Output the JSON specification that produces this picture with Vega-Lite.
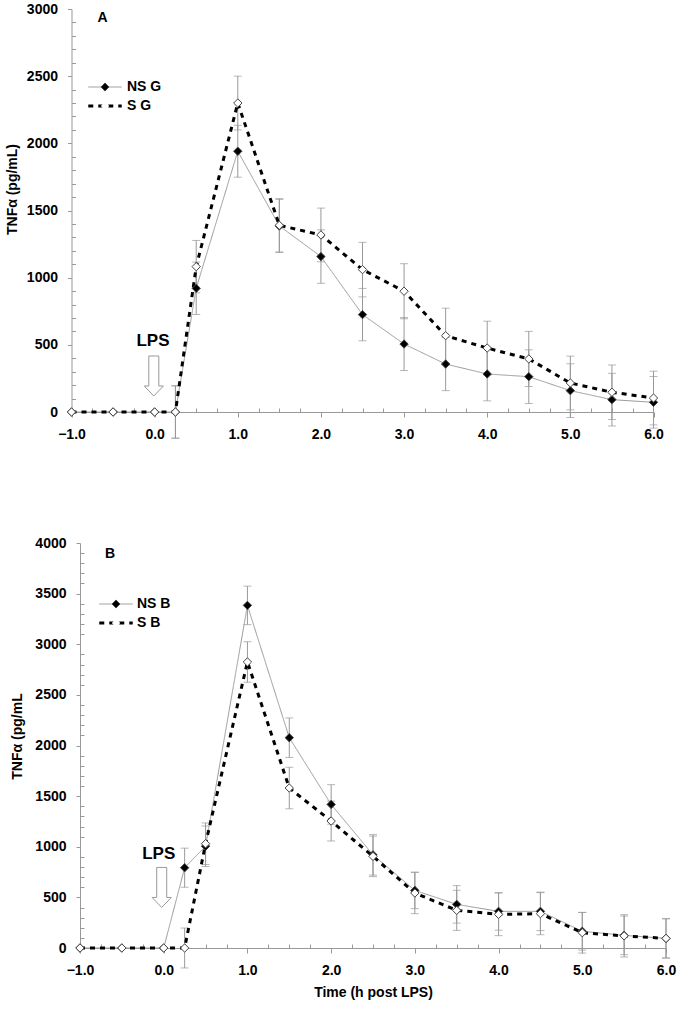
{
  "$schema": "https://vega.github.io/schema/vega-lite/v6.json",
  "padding": {"left": 5, "top": 2, "right": 5, "bottom": 5},
  "concat": [
    {
      "width": 582,
      "height": 403,
      "data": {"name": "A"},
      "encoding": {
        "x": {"field": "time", "type": "quantitative", "scale": {"domain": [-1, 6], "nice": false, "zero": false, "range": [-8.5, 573.5]},
          "axis": {"title": null, "values": [-1,-0.75,-0.5,-0.25,0,0.25,0.5,0.75,1,1.25,1.5,1.75,2,2.25,2.5,2.75,3,3.25,3.5,3.75,4,4.25,4.5,4.75,5,5.25,5.5,5.75,6],
            "format": ".1f", "labelExpr": "datum.value % 1 === 0 ? datum.label : ''",
            "tickSize": {"condition": {"test": "datum.value % 1 !== 0", "value": -4}, "value": 5},
            "labelPadding": 10, "labelOverlap": false, "labelFlush": false}},
        "y": {"field": "value", "type": "quantitative", "title": "TNFα (pg/mL)", "scale": {"domain": [0, 3000], "nice": false},
          "axis": {"values": [0,100,200,300,400,500,600,700,800,900,1000,1100,1200,1300,1400,1500,1600,1700,1800,1900,2000,2100,2200,2300,2400,2500,2600,2700,2800,2900,3000],
            "format": "d", "labelExpr": "datum.value % 500 === 0 ? datum.label : ''",
            "tickSize": {"condition": {"test": "datum.value % 500 !== 0", "value": -4}, "value": 4},
            "labelPadding": 10, "labelOverlap": false, "labelFlush": false, "offset": 8.5, "titleX": -52.5, "titleY": 180}}
      },
      "layer": [
        {"mark": {"type": "errorbar", "ticks": {"size": 8, "color": "#999", "strokeWidth": 1}, "rule": {"color": "#999", "strokeWidth": 1}},
         "encoding": {"yError": {"field": "se"}}},
        {"mark": {"type": "line"},
         "encoding": {
           "stroke": {"field": "series", "type": "nominal", "scale": {"range": ["#999999", "black"]},
             "legend": {"orient": "none", "legendX": 18, "legendY": 71, "title": null, "symbolType": "M-4,0L4,0", "symbolSize": 70, "labelOffset": 15, "padding": 0, "rowPadding": 5, "labelFontSize": 14, "labelFontWeight": "bold"}},
           "strokeDash": {"field": "series", "type": "nominal", "scale": {"range": [[1, 0], [5, 5]]},
             "legend": {"orient": "none", "legendX": 18, "legendY": 71, "title": null, "symbolType": "M-4,0L4,0", "symbolSize": 70, "labelOffset": 15, "padding": 0, "rowPadding": 5, "labelFontSize": 14, "labelFontWeight": "bold"}},
           "strokeWidth": {"field": "series", "type": "nominal", "scale": {"range": [1, 3]},
             "legend": {"orient": "none", "legendX": 18, "legendY": 71, "title": null, "symbolType": "M-4,0L4,0", "symbolSize": 70, "labelOffset": 15, "padding": 0, "rowPadding": 5, "labelFontSize": 14, "labelFontWeight": "bold"}}
         }},
        {"mark": {"type": "point", "filled": true, "size": 70, "opacity": 1, "stroke": "#444", "strokeWidth": 1},
         "encoding": {
           "shape": {"field": "series", "type": "nominal", "scale": {"domain": ["NS G", "S G"], "range": ["diamond", "diamond"]},
             "legend": {"orient": "none", "legendX": 18, "legendY": 71, "title": null, "symbolSize": 70, "labelOffset": 15, "padding": 0, "rowPadding": 5, "labelFontSize": 14, "labelFontWeight": "bold", "labelOpacity": 0, "symbolStrokeColor": "#444", "symbolStrokeWidth": 1}},
           "fill": {"field": "series", "type": "nominal", "scale": {"domain": ["NS G", "S G"], "range": ["black", "white"]},
             "legend": {"orient": "none", "legendX": 18, "legendY": 71, "title": null, "symbolSize": 70, "labelOffset": 15, "padding": 0, "rowPadding": 5, "labelFontSize": 14, "labelFontWeight": "bold", "labelOpacity": 0, "symbolStrokeColor": "#444", "symbolStrokeWidth": 1}}
         }},
        {"data": {"values": [{"label": "A", "time": -0.627, "value": 2934}]},
         "mark": {"type": "text", "fontSize": 14, "fontWeight": "bold", "align": "center", "baseline": "middle"},
         "encoding": {"text": {"field": "label"}}},
        {"data": {"values": [{"label": "LPS", "time": -0.02, "value": 525}]},
         "mark": {"type": "text", "fontSize": 17, "fontWeight": "bold", "align": "center", "baseline": "middle"},
         "encoding": {"text": {"field": "label"}}},
        {"data": {"values": [{"label": "arrow", "time": -0.01, "value": 268}]},
         "mark": {"type": "point", "shape": "M-0.25,-1L0.25,-1L0.25,0.5L0.48,0.5L0,1L-0.48,0.5L-0.25,0.5Z", "size": 1600, "filled": false, "stroke": "#999", "strokeWidth": 1, "opacity": 1}}
      ]
    },
    {
      "width": 586,
      "height": 405,
      "data": {"name": "B"},
      "encoding": {
        "x": {"field": "time", "type": "quantitative", "title": "Time (h post LPS)", "scale": {"domain": [-1, 6], "nice": false, "zero": false},
          "axis": {"values": [-1,-0.75,-0.5,-0.25,0,0.25,0.5,0.75,1,1.25,1.5,1.75,2,2.25,2.5,2.75,3,3.25,3.5,3.75,4,4.25,4.5,4.75,5,5.25,5.5,5.75,6],
            "format": ".1f", "labelExpr": "datum.value % 1 === 0 ? datum.label : ''",
            "tickSize": {"condition": {"test": "datum.value % 1 !== 0", "value": -4}, "value": 5},
            "labelPadding": 10, "labelOverlap": false, "labelFlush": false, "titlePadding": 8}},
        "y": {"field": "value", "type": "quantitative", "title": "TNFα (pg/mL", "scale": {"domain": [0, 4000], "nice": false},
          "axis": {"values": [0,100,200,300,400,500,600,700,800,900,1000,1100,1200,1300,1400,1500,1600,1700,1800,1900,2000,2100,2200,2300,2400,2500,2600,2700,2800,2900,3000,3100,3200,3300,3400,3500,3600,3700,3800,3900,4000],
            "format": "d", "labelExpr": "datum.value % 500 === 0 ? datum.label : ''",
            "tickSize": {"condition": {"test": "datum.value % 500 !== 0", "value": -4}, "value": 4},
            "labelPadding": 10, "labelOverlap": false, "labelFlush": false, "titleX": -56, "titleY": 193}}
      },
      "layer": [
        {"mark": {"type": "errorbar", "ticks": {"size": 8, "color": "#999", "strokeWidth": 1}, "rule": {"color": "#999", "strokeWidth": 1}},
         "encoding": {"yError": {"field": "se"}}},
        {"mark": {"type": "line"},
         "encoding": {
           "stroke": {"field": "series", "type": "nominal", "scale": {"range": ["#999999", "black"]},
             "legend": {"orient": "none", "legendX": 29, "legendY": 54, "title": null, "symbolType": "M-4,0L4,0", "symbolSize": 70, "labelOffset": 14, "padding": 0, "rowPadding": 5, "labelFontSize": 14, "labelFontWeight": "bold"}},
           "strokeDash": {"field": "series", "type": "nominal", "scale": {"range": [[1, 0], [5, 5]]},
             "legend": {"orient": "none", "legendX": 29, "legendY": 54, "title": null, "symbolType": "M-4,0L4,0", "symbolSize": 70, "labelOffset": 14, "padding": 0, "rowPadding": 5, "labelFontSize": 14, "labelFontWeight": "bold"}},
           "strokeWidth": {"field": "series", "type": "nominal", "scale": {"range": [1, 3]},
             "legend": {"orient": "none", "legendX": 29, "legendY": 54, "title": null, "symbolType": "M-4,0L4,0", "symbolSize": 70, "labelOffset": 14, "padding": 0, "rowPadding": 5, "labelFontSize": 14, "labelFontWeight": "bold"}}
         }},
        {"mark": {"type": "point", "filled": true, "size": 70, "opacity": 1, "stroke": "#444", "strokeWidth": 1},
         "encoding": {
           "shape": {"field": "series", "type": "nominal", "scale": {"domain": ["NS B", "S B"], "range": ["diamond", "diamond"]},
             "legend": {"orient": "none", "legendX": 29, "legendY": 54, "title": null, "symbolSize": 70, "labelOffset": 14, "padding": 0, "rowPadding": 5, "labelFontSize": 14, "labelFontWeight": "bold", "labelOpacity": 0, "symbolStrokeColor": "#444", "symbolStrokeWidth": 1}},
           "fill": {"field": "series", "type": "nominal", "scale": {"domain": ["NS B", "S B"], "range": ["black", "white"]},
             "legend": {"orient": "none", "legendX": 29, "legendY": 54, "title": null, "symbolSize": 70, "labelOffset": 14, "padding": 0, "rowPadding": 5, "labelFontSize": 14, "labelFontWeight": "bold", "labelOpacity": 0, "symbolStrokeColor": "#444", "symbolStrokeWidth": 1}}
         }},
        {"data": {"values": [{"label": "B", "time": -0.64, "value": 3889}]},
         "mark": {"type": "text", "fontSize": 14, "fontWeight": "bold", "align": "center", "baseline": "middle"},
         "encoding": {"text": {"field": "label"}}},
        {"data": {"values": [{"label": "LPS", "time": -0.06, "value": 931}]},
         "mark": {"type": "text", "fontSize": 17, "fontWeight": "bold", "align": "center", "baseline": "middle"},
         "encoding": {"text": {"field": "label"}}},
        {"data": {"values": [{"label": "arrow", "time": -0.024, "value": 598}]},
         "mark": {"type": "point", "shape": "M-0.25,-1L0.25,-1L0.25,0.5L0.48,0.5L0,1L-0.48,0.5L-0.25,0.5Z", "size": 1600, "filled": false, "stroke": "#999", "strokeWidth": 1, "opacity": 1}}
      ]
    }
  ],
  "columns": 1,
  "spacing": 95,
  "resolve": {"scale": {"stroke": "independent", "strokeDash": "independent", "strokeWidth": "independent", "shape": "independent", "fill": "independent"}},
  "config": {
    "font": "Liberation Sans",
    "view": {"stroke": null},
    "axis": {"grid": false, "domainColor": "#999999", "tickColor": "#999999", "labelColor": "black", "labelFont": "Liberation Sans", "labelFontWeight": "bold", "labelFontSize": 14, "titleFont": "Liberation Sans", "titleFontWeight": "bold", "titleFontSize": 14, "titleColor": "black"},
    "legend": {"labelFont": "Liberation Sans", "labelColor": "black"},
    "text": {"font": "Liberation Sans", "color": "black"}
  },
  "datasets": {
    "A": [
      {"time": -1, "series": "NS G", "value": 0, "se": 0},
      {"time": -0.5, "series": "NS G", "value": 0, "se": 0},
      {"time": 0, "series": "NS G", "value": 0, "se": 0},
      {"time": 0.25, "series": "NS G", "value": 0, "se": 195},
      {"time": 0.5, "series": "NS G", "value": 921, "se": 195},
      {"time": 1, "series": "NS G", "value": 1941, "se": 193},
      {"time": 1.5, "series": "NS G", "value": 1385, "se": 198},
      {"time": 2, "series": "NS G", "value": 1157, "se": 199},
      {"time": 2.5, "series": "NS G", "value": 725, "se": 195},
      {"time": 3, "series": "NS G", "value": 506, "se": 197},
      {"time": 3.5, "series": "NS G", "value": 357, "se": 198},
      {"time": 4, "series": "NS G", "value": 283, "se": 200},
      {"time": 4.5, "series": "NS G", "value": 263, "se": 200},
      {"time": 5, "series": "NS G", "value": 159, "se": 200},
      {"time": 5.5, "series": "NS G", "value": 92, "se": 196},
      {"time": 6, "series": "NS G", "value": 72, "se": 192},
      {"time": -1, "series": "S G", "value": 0, "se": 0},
      {"time": -0.5, "series": "S G", "value": 0, "se": 0},
      {"time": 0, "series": "S G", "value": 0, "se": 0},
      {"time": 0.25, "series": "S G", "value": 0, "se": 195},
      {"time": 0.5, "series": "S G", "value": 1082, "se": 195},
      {"time": 1, "series": "S G", "value": 2300, "se": 200},
      {"time": 1.5, "series": "S G", "value": 1390, "se": 198},
      {"time": 2, "series": "S G", "value": 1318, "se": 200},
      {"time": 2.5, "series": "S G", "value": 1060, "se": 203},
      {"time": 3, "series": "S G", "value": 899, "se": 205},
      {"time": 3.5, "series": "S G", "value": 568, "se": 205},
      {"time": 4, "series": "S G", "value": 476, "se": 200},
      {"time": 4.5, "series": "S G", "value": 395, "se": 205},
      {"time": 5, "series": "S G", "value": 216, "se": 200},
      {"time": 5.5, "series": "S G", "value": 147, "se": 203},
      {"time": 6, "series": "S G", "value": 104, "se": 200}
    ],
    "B": [
      {"time": -1, "series": "NS B", "value": 0, "se": 0},
      {"time": -0.5, "series": "NS B", "value": 0, "se": 0},
      {"time": 0, "series": "NS B", "value": 0, "se": 0},
      {"time": 0.25, "series": "NS B", "value": 793, "se": 193},
      {"time": 0.5, "series": "NS B", "value": 1005, "se": 200},
      {"time": 1, "series": "NS B", "value": 3384, "se": 190},
      {"time": 1.5, "series": "NS B", "value": 2077, "se": 195},
      {"time": 2, "series": "NS B", "value": 1418, "se": 195},
      {"time": 2.5, "series": "NS B", "value": 920, "se": 200},
      {"time": 3, "series": "NS B", "value": 569, "se": 180},
      {"time": 3.5, "series": "NS B", "value": 431, "se": 185},
      {"time": 4, "series": "NS B", "value": 362, "se": 186},
      {"time": 4.5, "series": "NS B", "value": 362, "se": 190},
      {"time": 5, "series": "NS B", "value": 165, "se": 186},
      {"time": 5.5, "series": "NS B", "value": 125, "se": 191},
      {"time": 6, "series": "NS B", "value": 95, "se": 194},
      {"time": -1, "series": "S B", "value": 0, "se": 0},
      {"time": -0.5, "series": "S B", "value": 0, "se": 0},
      {"time": 0, "series": "S B", "value": 0, "se": 0},
      {"time": 0.25, "series": "S B", "value": 0, "se": 197},
      {"time": 0.5, "series": "S B", "value": 1030, "se": 205},
      {"time": 1, "series": "S B", "value": 2825, "se": 200},
      {"time": 1.5, "series": "S B", "value": 1580, "se": 205},
      {"time": 2, "series": "S B", "value": 1254, "se": 197},
      {"time": 2.5, "series": "S B", "value": 905, "se": 200},
      {"time": 3, "series": "S B", "value": 543, "se": 204},
      {"time": 3.5, "series": "S B", "value": 372, "se": 198},
      {"time": 4, "series": "S B", "value": 332, "se": 210},
      {"time": 4.5, "series": "S B", "value": 339, "se": 208},
      {"time": 5, "series": "S B", "value": 151, "se": 201},
      {"time": 5.5, "series": "S B", "value": 120, "se": 209},
      {"time": 6, "series": "S B", "value": 95, "se": 194}
    ]
  }
}
